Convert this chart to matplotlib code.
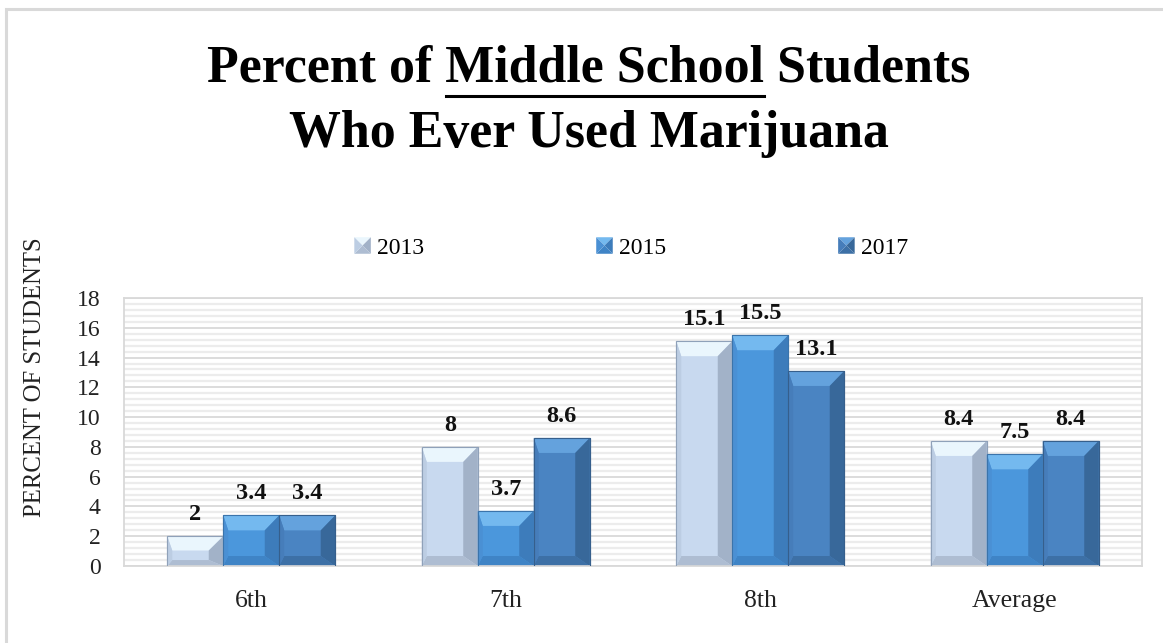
import matplotlib
matplotlib.use("Agg")
import matplotlib.pyplot as plt
import numpy as np
from matplotlib.patches import Polygon, Rectangle
from matplotlib.legend_handler import HandlerBase

# ---- data ----
categories = ["6th", "7th", "8th", "Average"]
series_names = ["2013", "2015", "2017"]
vals_2013 = [2, 8, 15.1, 8.4]
vals_2015 = [3.4, 3.7, 15.5, 7.5]
vals_2017 = [3.4, 8.6, 13.1, 8.4]
y_ticks = [0, 2, 4, 6, 8, 10, 12, 14, 16, 18]

title_pre = "Percent of "
title_mid = "Middle School"
title_post = " Students"
title_line2 = "Who Ever Used Marijuana"
y_label = "PERCENT OF STUDENTS"

# ---- styles ----
SERIF = ["Liberation Serif", "DejaVu Serif"]
plt.rcParams["font.family"] = SERIF
palettes = [
    dict(face="#c8d9ef", top="#eaf6fd", right="#a2b2c8", left="#bccde3", bottom="#aebdd2", edge="#8fa1b9"),
    dict(face="#4b97dc", top="#74b9ef", right="#3d7cbb", left="#4a90d4", bottom="#3f84c6", edge="#3b74ab"),
    dict(face="#4a84c2", top="#64a2dd", right="#38689a", left="#467dba", bottom="#3d70a6", edge="#365f8c"),
]

W, H = 1163, 643
fig = plt.figure(figsize=(W / 100, H / 100), dpi=100)

# outer chart border (right and bottom edges fall outside the image)
fig.patches.append(Rectangle((6 / W, -0.5), 2, 1.5 - 9 / H, transform=fig.transFigure,
                             fill=False, edgecolor="#d9d9d9", lw=2.2))

# axes
L, R, T, B = 124, 1142, 298, 566
ax = fig.add_axes([L / W, 1 - B / H, (R - L) / W, (B - T) / H])
ax.set_xlim(-0.5, len(categories) - 0.5)
ax.set_ylim(0, 18)

# background pattern lines and gridlines
for yv in np.arange(0, 18.01, 0.4):
    if abs(yv / 2 - round(yv / 2)) > 1e-6:
        ax.axhline(yv, color="#ececec", lw=1.6, zorder=0)
for yv in y_ticks:
    ax.axhline(yv, color="#d9d9d9", lw=1.3, zorder=0.5)
for s in ax.spines.values():
    s.set_color("#d9d9d9")
    s.set_linewidth(1.3)

x = np.arange(len(categories))
bw = 0.22
all_vals = [vals_2013, vals_2015, vals_2017]

fig.canvas.draw()
px_x = ax.transData.transform((1, 0))[0] - ax.transData.transform((0, 0))[0]
px_y = ax.transData.transform((0, 1))[1] - ax.transData.transform((0, 0))[1]

for i, (vals, pal) in enumerate(zip(all_vals, palettes)):
    bars = ax.bar(x + (i - 1) * bw, vals, bw, color=pal["face"], edgecolor=pal["edge"],
                  linewidth=0.8, zorder=2)
    for p in bars:
        x0, w, h = p.get_x(), p.get_width(), p.get_height()
        hpx = h * px_y
        by_px = min(15.0, hpx * 0.48)
        dx = 14.5 / px_x
        dy = by_px / px_y
        dx_l = 5.0 / px_x
        dyb = min(10.0, hpx * 0.2) / px_y
        polys = [
            ([(x0, h), (x0 + w, h), (x0 + w - dx, h - dy), (x0 + dx_l, h - dy)], pal["top"]),
            ([(x0 + w, h), (x0 + w, 0), (x0 + w - dx, dyb), (x0 + w - dx, h - dy)], pal["right"]),
            ([(x0, 0), (x0 + w, 0), (x0 + w - dx, dyb), (x0 + dx_l, dyb)], pal["bottom"]),
            ([(x0, 0), (x0, h), (x0 + dx_l, h - dy), (x0 + dx_l, dyb)], pal["left"]),
        ]
        for pts, c in polys:
            ax.add_patch(Polygon(pts, closed=True, facecolor=c, edgecolor="none", zorder=2.5))
        ax.add_patch(Rectangle((x0, 0), w, h, fill=False, edgecolor=pal["edge"], lw=0.8, zorder=3))
    ax.bar_label(bars, padding=8, fontsize=17.5, fontweight="bold", color="#111111")

ax.set_xticks(x)
ax.set_xticklabels(categories)
ax.set_yticks(y_ticks)
ax.tick_params(axis="both", length=0, colors="#222222")
ax.tick_params(axis="x", pad=17, labelsize=18.5)
ax.tick_params(axis="y", pad=17, labelsize=17)

fig.text(35 / W, 1 - 377 / H, y_label, rotation=90, ha="center", va="center",
         fontsize=17.8, color="#222222")


# legend with bevelled square handles
class BevelHandler(HandlerBase):
    def __init__(self, pal):
        super().__init__()
        self.pal = pal

    def create_artists(self, legend, orig_handle, xdescent, ydescent, width, height, fontsize, trans):
        s = min(width, height)
        x0 = -xdescent + (width - s) / 2
        y0 = -ydescent + (height - s) / 2
        cx, cy = x0 + s / 2, y0 + s / 2
        c = [(x0, y0), (x0 + s, y0), (x0 + s, y0 + s), (x0, y0 + s)]
        pal = self.pal
        tris = [
            ([c[3], c[2], (cx, cy)], pal["top"]),
            ([c[2], c[1], (cx, cy)], pal["right"]),
            ([c[1], c[0], (cx, cy)], pal["bottom"]),
            ([c[0], c[3], (cx, cy)], pal["left"]),
        ]
        arts = []
        for pts, col in tris:
            pg = Polygon(pts, closed=True, facecolor=col, edgecolor="none", transform=trans)
            arts.append(pg)
        return arts


handles = [Rectangle((0, 0), 1, 1) for _ in series_names]
leg = fig.legend(handles, series_names, loc="center", bbox_to_anchor=(631 / W, 1 - 248 / H),
                 ncol=3, frameon=False, fontsize=17, handlelength=0.7, handleheight=0.7,
                 handletextpad=0.25, columnspacing=7.3,
                 handler_map={h: BevelHandler(p) for h, p in zip(handles, palettes)})

# title with underlined middle part
tfs = 37.4
tx = 589 / W
full1 = title_pre + title_mid + title_post
t1 = fig.text(tx, 1 - 69 / H, full1, ha="center", va="center", fontsize=tfs,
              fontweight="bold", color="#000000")
fig.text(tx, 1 - 134 / H, title_line2, ha="center", va="center", fontsize=tfs,
         fontweight="bold", color="#000000")
renderer = fig.canvas.get_renderer()


def text_width(s):
    tt = fig.text(0, 0, s, fontsize=tfs, fontweight="bold")
    wpx = tt.get_window_extent(renderer=renderer).width
    tt.remove()
    return wpx


bb = t1.get_window_extent(renderer=renderer)
w_upto = text_width(title_pre + title_mid)
w_mid = text_width(title_mid)
x_end = bb.x0 + w_upto
x_start = x_end - w_mid
uy = H - 96
fig.add_artist(plt.Line2D([x_start / W, x_end / W], [uy / H, uy / H], transform=fig.transFigure,
                          color="#000000", lw=2.2))

fig.savefig("out.png", dpi=100)
